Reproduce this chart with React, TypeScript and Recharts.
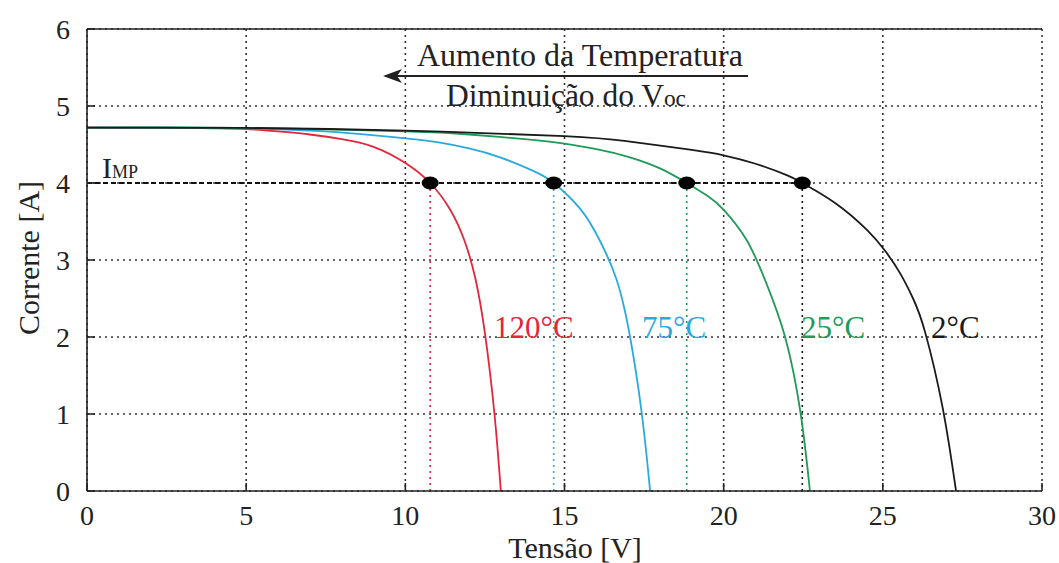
import React from 'react';
import {
  ComposedChart,
  Line,
  XAxis,
  YAxis,
  CartesianGrid,
  ReferenceLine,
  ReferenceDot,
} from 'recharts';

const FONT = "'Liberation Serif', 'Times New Roman', Tinos, serif";
const INK = '#222';

// Curvas I-V do módulo: tensão [V] e corrente [A] para cada temperatura
const v120 = [0, 2, 4, 5, 6, 7, 8, 9, 10, 10.78, 11.4, 11.85, 12.2, 12.5, 12.8, 13.0];
const i120 = [4.72, 4.72, 4.71, 4.7, 4.67, 4.63, 4.57, 4.47, 4.26, 4.0, 3.66, 3.26, 2.76, 2.05, 1.0, 0];

const v75 = [0, 2.5, 5, 7.5, 10, 11, 12, 13, 14, 14.66, 15.5, 16.1, 16.64, 17.06, 17.43, 17.69];
const i75 = [4.72, 4.72, 4.71, 4.67, 4.58, 4.53, 4.45, 4.33, 4.16, 4.0, 3.66, 3.26, 2.74, 2.0, 1.0, 0];

const v25 = [0, 5, 10, 12, 14, 15, 16, 17, 18, 18.84, 19.5, 20, 20.72, 21.3, 21.93, 22.42, 22.71];
const i25 = [4.72, 4.715, 4.67, 4.63, 4.56, 4.51, 4.44, 4.34, 4.19, 4.0, 3.83, 3.65, 3.26, 2.74, 2.0, 1.0, 0];

const v2 = [0, 5, 10, 15, 17, 19, 20, 21, 22, 22.47, 23.5, 24.5, 25.07, 25.54, 25.95, 26.33, 26.88, 27.3];
const i2 = [4.72, 4.715, 4.68, 4.61, 4.54, 4.43, 4.36, 4.25, 4.1, 4.0, 3.74, 3.39, 3.12, 2.83, 2.5, 2.06, 1.08, 0];

// pontos de máxima potência
const mppV = [10.78, 14.66, 18.84, 22.47];
const mppI = 4;

const labels = ['120°C', '75°C', '25°C', '2°C'];
const colors = ['#e2263b', '#2aa9df', '#1f9a57', '#1a1a1a'];

const xTicks = [0, 5, 10, 15, 20, 25, 30];
const yTicks = [0, 1, 2, 3, 4, 5, 6];

const toRows = (v: number[], i: number[]) => v.map((x, k) => ({ v: x, i: i[k] }));

const curves = [toRows(v120, i120), toRows(v75, i75), toRows(v25, i25), toRows(v2, i2)];

// posições dos rótulos das curvas (px)
const labelX = [494, 642, 801, 931];

const tickStyle = { fill: INK, fontSize: 28, fontFamily: FONT, style: { fontFamily: FONT } };

export default function App() {
  return (
    <div
      style={{
        position: 'absolute',
        left: 0,
        top: 0,
        width: 1059,
        height: 563,
        background: '#fff',
        fontFamily: FONT,
      }}
    >
      <ComposedChart
        width={1059}
        height={563}
        margin={{ top: 29, right: 17, left: 0, bottom: 0 }}
        style={{ fontFamily: FONT }}
      >
        <CartesianGrid stroke="#333" strokeWidth={1.6} strokeDasharray="2 4" />
        <XAxis
          dataKey="v"
          type="number"
          domain={[0, 30]}
          ticks={xTicks}
          height={72}
          allowDuplicatedCategory={false}
          stroke={INK}
          strokeWidth={1.6}
          tickSize={-8}
          tickMargin={22}
          tick={tickStyle}
        />
        <YAxis
          type="number"
          domain={[0, 6]}
          ticks={yTicks}
          width={87}
          stroke={INK}
          strokeWidth={1.6}
          tickSize={-8}
          tickMargin={25}
          tick={tickStyle}
        />
        <YAxis
          yAxisId="r"
          orientation="right"
          type="number"
          domain={[0, 6]}
          ticks={yTicks}
          width={0}
          mirror
          stroke={INK}
          strokeWidth={1.6}
          tickSize={12}
          tick={() => <g />}
        />
        <ReferenceLine y={6} stroke={INK} strokeWidth={1.6} />
        <ReferenceLine
          segment={[{ x: 0, y: mppI }, { x: mppV[3], y: mppI }]}
          stroke="#111"
          strokeWidth={2}
          strokeDasharray="5 3"
        />
        {mppV.map((x, k) => (
          <ReferenceLine
            key={'drop' + k}
            segment={[{ x, y: 0 }, { x, y: mppI }]}
            stroke={colors[k]}
            strokeWidth={1.6}
            strokeDasharray="2 4"
          />
        ))}
        {curves.map((rows, k) => (
          <Line
            key={labels[k]}
            data={rows}
            dataKey="i"
            type="natural"
            stroke={colors[k]}
            strokeWidth={1.8}
            dot={false}
            isAnimationActive={false}
          />
        ))}
        {mppV.map((x, k) => (
          <ReferenceDot
            key={'mpp' + k}
            x={x}
            y={mppI}
            shape={(p: any) => <ellipse cx={p.cx} cy={p.cy} rx={8.5} ry={6.5} fill="#000" />}
          />
        ))}
      </ComposedChart>

      <svg
        width={1059}
        height={563}
        style={{ position: 'absolute', left: 0, top: 0, pointerEvents: 'none', fontFamily: FONT }}
      >
        <text x={417} y={66} fontSize={31} fill={INK} textLength={326} lengthAdjust="spacingAndGlyphs">
          Aumento da Temperatura
        </text>
        <line x1={395} y1={76} x2={748} y2={76} stroke={INK} strokeWidth={2} />
        <polygon points="383,76 402,69 397,76 402,83" fill={INK} />
        <text x={446} y={106} fontSize={31} fill={INK} textLength={240} lengthAdjust="spacingAndGlyphs">
          Diminuição do V<tspan fontSize={23}>oc</tspan>
        </text>

        <text x={102} y={178} fontSize={30} fill={INK}>
          I<tspan fontSize={18}>MP</tspan>
        </text>

        {labels.map((t, k) => (
          <text key={t} x={labelX[k]} y={338} fontSize={31} fill={colors[k]}>{t}</text>
        ))}

        <text x={575} y={558} fontSize={30} fill={INK} textAnchor="middle">Tensão [V]</text>
        <text
          x={39}
          y={258}
          fontSize={30}
          fill={INK}
          textAnchor="middle"
          transform="rotate(-90 39 258)"
        >
          Corrente [A]
        </text>
      </svg>
    </div>
  );
}
